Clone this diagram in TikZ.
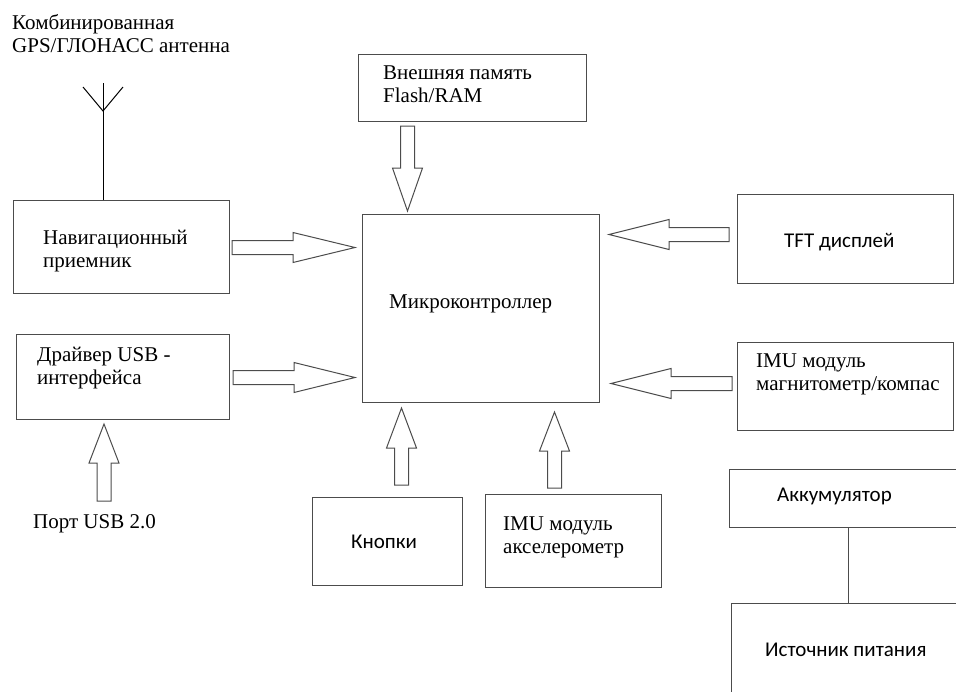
\documentclass[tikz,border=0pt]{standalone}
\usepackage{fontspec}
\setmainfont{Liberation Serif}
\setsansfont{Carlito}
\usetikzlibrary{calc}

\begin{document}
\begin{tikzpicture}[x=1pt, y=-1pt,
  every node/.style={font=\fontsize{21pt}{23pt}\selectfont},
  box/.style={draw=black!70, line width=1pt, inner sep=0pt, anchor=north west},
  txt/.style={anchor=north west, inner sep=0pt, align=left},
  sans/.style={txt, font=\fontsize{21pt}{23pt}\selectfont\sffamily},
  fat/.style={draw=black!70, line width=1pt, to path={
    ($(\tikztotarget)!#1!(\tikztostart)$) coordinate (fh)
    ($(\tikztostart)!7pt!90:(\tikztotarget)$) -- ($(fh)!7pt!90:(\tikztotarget)$)
    -- ($(fh)!15pt!90:(\tikztotarget)$) -- (\tikztotarget)
    -- ($(fh)!15pt!-90:(\tikztotarget)$) -- ($(fh)!7pt!-90:(\tikztotarget)$)
    -- ($(\tikztostart)!7pt!-90:(\tikztotarget)$) -- cycle}}]
\useasboundingbox (0,0) rectangle (956,691);
\clip (0,0) rectangle (956,691);

% blocks
\node[box, minimum width=228pt, minimum height=67pt,
  label={[txt, xshift=25pt, yshift=-12pt]north west:{Внешняя память\\Flash/RAM}}] (mem) at (358,54) {};
\node[box, minimum width=216pt, minimum height=93pt,
  label={[txt, xshift=30pt, yshift=-30pt]north west:{Навигационный\\приемник}}] (nav) at (13,200) {};
\node[box, minimum width=213pt, minimum height=85pt,
  label={[txt, xshift=21pt, yshift=-13pt]north west:{Драйвер USB -\\интерфейса}}] (usb) at (16,334) {};
\node[box, minimum width=237pt, minimum height=188pt,
  label={[txt, xshift=27pt, yshift=-81pt]north west:{Микроконтроллер}}] (mcu) at (362,214) {};
\node[box, minimum width=216pt, minimum height=89pt,
  label={[sans, xshift=47pt, yshift=-39pt]north west:{TFT дисплей}}] (tft) at (737,194) {};
\node[box, minimum width=216pt, minimum height=88pt,
  label={[txt, xshift=19pt, yshift=-12pt]north west:{IMU модуль\\магнитометр/компас}}] (mag) at (737,342) {};
\node[box, minimum width=150pt, minimum height=88pt,
  label={[sans, xshift=39pt, yshift=-38pt]north west:{Кнопки}}] (btn) at (312,497) {};
\node[box, minimum width=176pt, minimum height=93pt,
  label={[txt, xshift=18pt, yshift=-23pt]north west:{IMU модуль\\акселерометр}}] (acc) at (485,494) {};
\node[box, minimum width=271pt, minimum height=58pt,
  label={[sans, xshift=48pt, yshift=-19pt]north west:{Аккумулятор}}] (akk) at (729,469) {};
\node[box, minimum width=269pt, minimum height=117pt,
  label={[sans, xshift=34pt, yshift=-40pt]north west:{Источник питания}}] (src) at (731,603) {};

% free texts
\node[txt] (anttitle) at (12,14.5) {Комбинированная\\GPS/ГЛОНАСС антенна};
\node[txt] (port) at (33,514) {Порт USB 2.0};

% antenna
\coordinate (ant) at (103,83);
\coordinate (fork) at (103,111);
\coordinate (armL) at (83,87);
\coordinate (armR) at (123,87);
\draw[line width=1pt] (ant |- nav.north) -- (ant);
\draw[line width=1pt] (armL) -- (fork) -- (armR);

% block arrows
\coordinate (m1) at ($(mem.south)+(-65,4)$);
\coordinate (m2) at ($(mem.south |- mcu.north)+(-65,-3)$);
\coordinate (n1) at ($(nav.east)+(2,0.5)$);
\coordinate (n2) at ($(nav.east -| mcu.west)+(-7,0.5)$);
\coordinate (u1) at ($(usb.east)+(3,0.5)$);
\coordinate (u2) at ($(usb.east -| mcu.west)+(-7,0.5)$);
\coordinate (t1) at ($(tft.west)+(-8,-4.5)$);
\coordinate (t2) at ($(tft.west -| mcu.east)+(9,-4.5)$);
\coordinate (g1) at ($(mag.west)+(-5,-3)$);
\coordinate (g2) at ($(mag.west -| mcu.east)+(11,-3)$);
\coordinate (b1) at ($(btn.north)+(14,-12)$);
\coordinate (b2) at ($(btn.north |- mcu.south)+(14,5)$);
\coordinate (a1) at ($(acc.north)+(-19,-6)$);
\coordinate (a2) at ($(acc.north |- mcu.south)+(-19,9)$);
\coordinate (p1) at ($(usb.south)+(-19,81)$);
\coordinate (p2) at ($(usb.south)+(-19,4)$);
\draw[fat=43pt] (m1) to (m2);
\draw[fat=62pt] (n1) to (n2);
\draw[fat=61pt] (u1) to (u2);
\draw[fat=60pt] (t1) to (t2);
\draw[fat=60pt] (g1) to (g2);
\draw[fat=40pt] (b1) to (b2);
\draw[fat=39pt] (a1) to (a2);
\draw[fat=39pt] (p1) to (p2);

% power link
\coordinate (pw) at ($(akk.south west)+(119,0)$);
\draw[draw=black!70, line width=1pt] (pw) -- (pw |- src.north);
\end{tikzpicture}
\end{document}
